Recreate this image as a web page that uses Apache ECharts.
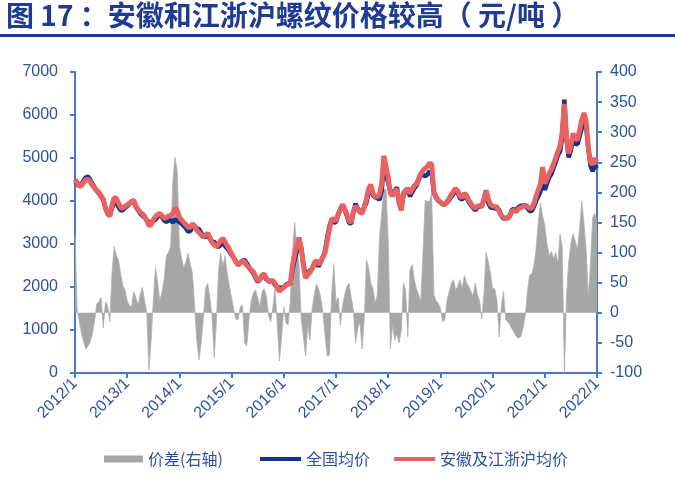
<!DOCTYPE html>
<html>
<head>
<meta charset="utf-8">
<script src="https://cdn.jsdelivr.net/npm/echarts@6/dist/echarts.min.js"></script>
<style>
html,body{margin:0;padding:0;background:#fff;}
#chart{width:675px;height:497px;}
</style>
</head>
<body>
<div id="chart"></div>
<script>
// Semi-monthly samples starting 2012/1, 24 per year
var startYear = 2012;
var stepsPerYear = 24;
var xTicks = ['2012/1','2013/1','2014/1','2015/1','2016/1','2017/1','2018/1','2019/1','2020/1','2021/1','2022/1'];
var seriesNames = ['价差(右轴)', '全国均价', '安徽及江浙沪均价'];
var titleText = '图 17 ：安徽和江浙沪螺纹价格较高（ 元/吨 ）';

// 安徽及江浙沪均价 (元/吨)
var regionalAvg = [
  4500,4420,4340,4360,4430,4490,4510,4450,4360,4300,4250,4200,4120,4020,3850,3720,3640,3900,4080,4060,3950,3850,3830,3880,
  3900,3950,3990,4020,3880,3800,3740,3700,3640,3550,3420,3450,3560,3640,3680,3710,3660,3600,3610,3650,3660,3720,3830,3780,
  3620,3560,3500,3450,3390,3380,3470,3420,3320,3270,3210,3170,3200,3250,3150,3040,2980,2940,3000,3080,3130,3050,2960,2870,
  2770,2680,2580,2510,2560,2620,2580,2500,2450,2400,2350,2250,2140,2180,2280,2300,2200,2130,2130,2150,2080,1980,1900,1950,
  1990,2040,2060,2090,2500,2780,2950,3150,2900,2500,2210,2280,2340,2420,2560,2620,2520,2600,2700,2800,3090,3350,3580,3580,
  3530,3700,3800,3920,3820,3700,3540,3500,3750,3890,3800,3740,3710,3850,4050,4280,4380,4180,4100,4100,4150,4400,5050,4800,
  4550,4170,4120,4200,4280,3950,3780,4180,4260,4260,4180,4280,4350,4400,4520,4630,4710,4760,4800,4880,4850,4220,4100,4020,
  3980,3920,3920,3980,4060,4150,4220,4290,4230,4120,4070,4180,4130,4020,3940,3870,3830,3880,3890,3870,4050,4250,4040,3920,
  3880,3870,3860,3750,3670,3620,3590,3600,3650,3780,3770,3760,3820,3850,3870,3900,3870,3830,3830,3950,4110,4260,4400,4790,
  4400,4520,4640,4730,4860,5000,5150,5280,5600,6260,5450,5100,5300,5570,5450,5420,5650,5880,6050,5850,5250,4900,4850,4990,
  4910
];

// 全国均价 (元/吨)
var nationalAvg = [
  4370,4415,4355,4395,4478,4550,4565,4498,4395,4315,4235,4182,4095,4045,3832,3708,3655,3835,3970,3965,3862,3785,3785,3842,
  3880,3938,3980,3985,3855,3788,3710,3658,3620,3550,3515,3495,3540,3565,3630,3690,3625,3545,3515,3550,3550,3500,3572,3545,
  3510,3470,3425,3365,3291,3300,3405,3410,3365,3348,3260,3180,3160,3201,3125,3045,3055,2955,2930,2980,3053,2955,2895,2826,
  2745,2675,2591,2521,2550,2608,2630,2555,2460,2380,2317,2212,2115,2170,2245,2260,2173,2135,2145,2140,2040,2000,1980,1990,
  1980,2057,2080,2070,2400,2630,2840,3070,2910,2540,2282,2300,2385,2415,2530,2572,2480,2575,2700,2840,3162,3420,3550,3500,
  3512,3675,3820,3910,3790,3656,3491,3475,3745,3940,3825,3755,3770,3860,3962,4205,4331,4140,4084,4070,4025,4235,4845,4595,
  4430,4230,4140,4245,4315,4000,3810,4130,4222,4300,4109,4200,4295,4360,4490,4610,4610,4573,4615,4695,4652,4190,4080,4004,
  3972,3935,3932,3960,4025,4102,4165,4252,4186,4065,4030,4118,4080,3976,3904,3842,3781,3850,3870,3880,4020,4150,3955,3854,
  3840,3830,3840,3790,3660,3585,3601,3615,3670,3807,3803,3800,3862,3889,3895,3905,3835,3768,3765,3872,4004,4110,4218,4630,
  4255,4405,4545,4628,4770,4900,5068,5150,5490,6360,5420,5015,5185,5438,5332,5314,5510,5695,5900,5746,5225,4820,4692,4825,
  4760
];

// 价差 (右轴, 元/吨)
var priceSpread = [
  130,5,-15,-35,-48,-60,-55,-48,-35,-15,15,18,25,-25,18,12,-15,65,110,95,88,65,45,38,
  20,12,10,35,25,12,30,42,20,0,-95,-45,20,75,50,20,35,55,95,100,110,220,258,235,
  110,90,75,85,99,80,65,10,-45,-78,-50,-10,40,49,25,-5,-75,-15,70,100,77,95,65,44,
  25,5,-11,-11,10,12,-50,-55,-10,20,33,38,25,10,35,40,27,-5,-15,10,40,-20,-80,-40,
  10,-17,-20,20,100,150,110,80,-10,-40,-72,-20,-45,5,30,48,40,25,0,-40,-72,-70,30,80,
  18,25,-20,10,30,44,49,25,5,-50,-25,-15,-60,-10,88,75,49,40,16,30,125,165,205,205,
  120,-60,-20,-45,-35,-50,-30,50,38,-40,71,80,55,40,30,20,100,187,185,185,198,30,20,16,
  8,-15,-12,20,35,48,55,38,44,55,40,62,50,44,36,28,49,30,20,-10,30,100,85,66,
  40,40,20,-40,10,35,-11,-15,-20,-27,-33,-40,-42,-39,-25,-5,35,62,65,78,106,150,182,160,
  145,115,95,102,90,100,82,130,110,-100,30,85,115,132,118,106,140,185,150,104,25,80,158,165,
  150
];

function pairs(arr) {
  var out = [];
  for (var i = 0; i < arr.length; i++) out.push([startYear + i / stepsPerYear, arr[i]]);
  return out;
}

var axisBlue = '#4a78c8';
var labelBlue = '#2f4f9f';
var labelFont = 'Liberation Sans, Arial, sans-serif';
var cjkFont = 'Noto Sans CJK SC, sans-serif';
var grey = '#a6a6a6';
var navy = '#12348f';
var red = '#e86262';

var chart = echarts.init(document.getElementById('chart'), null, {renderer: 'canvas'});
chart.setOption({
  animation: false,
  backgroundColor: '#ffffff',
  title: {
    text: titleText,
    left: 6, top: 1, padding: 0,
    textStyle: {fontFamily: cjkFont, fontSize: 28, fontWeight: 'bold', color: '#1f3c92'}
  },
  graphic: [{
    type: 'rect', left: 0, top: 34, shape: {width: 675, height: 3},
    style: {fill: '#1f3c92'}, silent: true
  }],
  legend: [{
    left: 104, top: 451, padding: 0,
    itemWidth: 39, itemHeight: 7,
    textStyle: {fontFamily: cjkFont, fontSize: 16, color: labelBlue},
    data: [{name: seriesNames[0], icon: 'rect', itemStyle: {color: grey}}]
  }, {
    left: 260, top: 451, padding: 0,
    itemGap: 24, itemWidth: 41, itemHeight: 4,
    textStyle: {fontFamily: cjkFont, fontSize: 16, color: labelBlue},
    data: [
      {name: seriesNames[1], icon: 'rect', itemStyle: {color: navy}},
      {name: seriesNames[2], icon: 'rect', itemStyle: {color: red}}
    ]
  }],
  grid: {left: 75, right: 78, top: 72, bottom: 124, containLabel: false},
  xAxis: {
    type: 'value', min: 2012, max: 2022, interval: 1,
    axisLine: {lineStyle: {color: axisBlue, width: 2}},
    axisTick: {show: true, length: 5, lineStyle: {color: axisBlue, width: 2}},
    splitLine: {show: false},
    axisLabel: {
      rotate: 45, margin: 8,
      fontFamily: labelFont, fontSize: 16, color: labelBlue,
      formatter: function (v) { return xTicks[Math.round(v - startYear)] || ''; }
    }
  },
  yAxis: [{
    type: 'value', min: 0, max: 7000, interval: 1000,
    axisLine: {show: true, lineStyle: {color: axisBlue, width: 2}},
    axisTick: {show: true, length: 5, lineStyle: {color: axisBlue, width: 2}},
    splitLine: {show: false},
    axisLabel: {margin: 17, fontFamily: labelFont, fontSize: 16, color: labelBlue,
      formatter: function (v) { return String(v); }}
  }, {
    type: 'value', min: -100, max: 400, interval: 50,
    axisLine: {show: true, lineStyle: {color: axisBlue, width: 2}},
    axisTick: {show: true, length: 5, lineStyle: {color: axisBlue, width: 2}},
    splitLine: {show: false},
    axisLabel: {margin: 13, fontFamily: labelFont, fontSize: 16, color: labelBlue,
      formatter: function (v) { return String(v); }}
  }],
  series: [{
    name: seriesNames[0], type: 'line', yAxisIndex: 1,
    data: pairs(priceSpread), symbol: 'none', z: 1,
    lineStyle: {color: '#b0b0b0', width: 0.8},
    itemStyle: {color: grey},
    areaStyle: {color: grey, opacity: 1, origin: 0}
  }, {
    name: seriesNames[1], type: 'line', yAxisIndex: 0,
    data: pairs(nationalAvg), symbol: 'none', z: 2,
    lineStyle: {color: navy, width: 4.5},
    itemStyle: {color: navy}
  }, {
    name: seriesNames[2], type: 'line', yAxisIndex: 0,
    data: pairs(regionalAvg), symbol: 'none', z: 3,
    lineStyle: {color: red, width: 5},
    itemStyle: {color: red}
  }]
});
</script>
</body>
</html>
